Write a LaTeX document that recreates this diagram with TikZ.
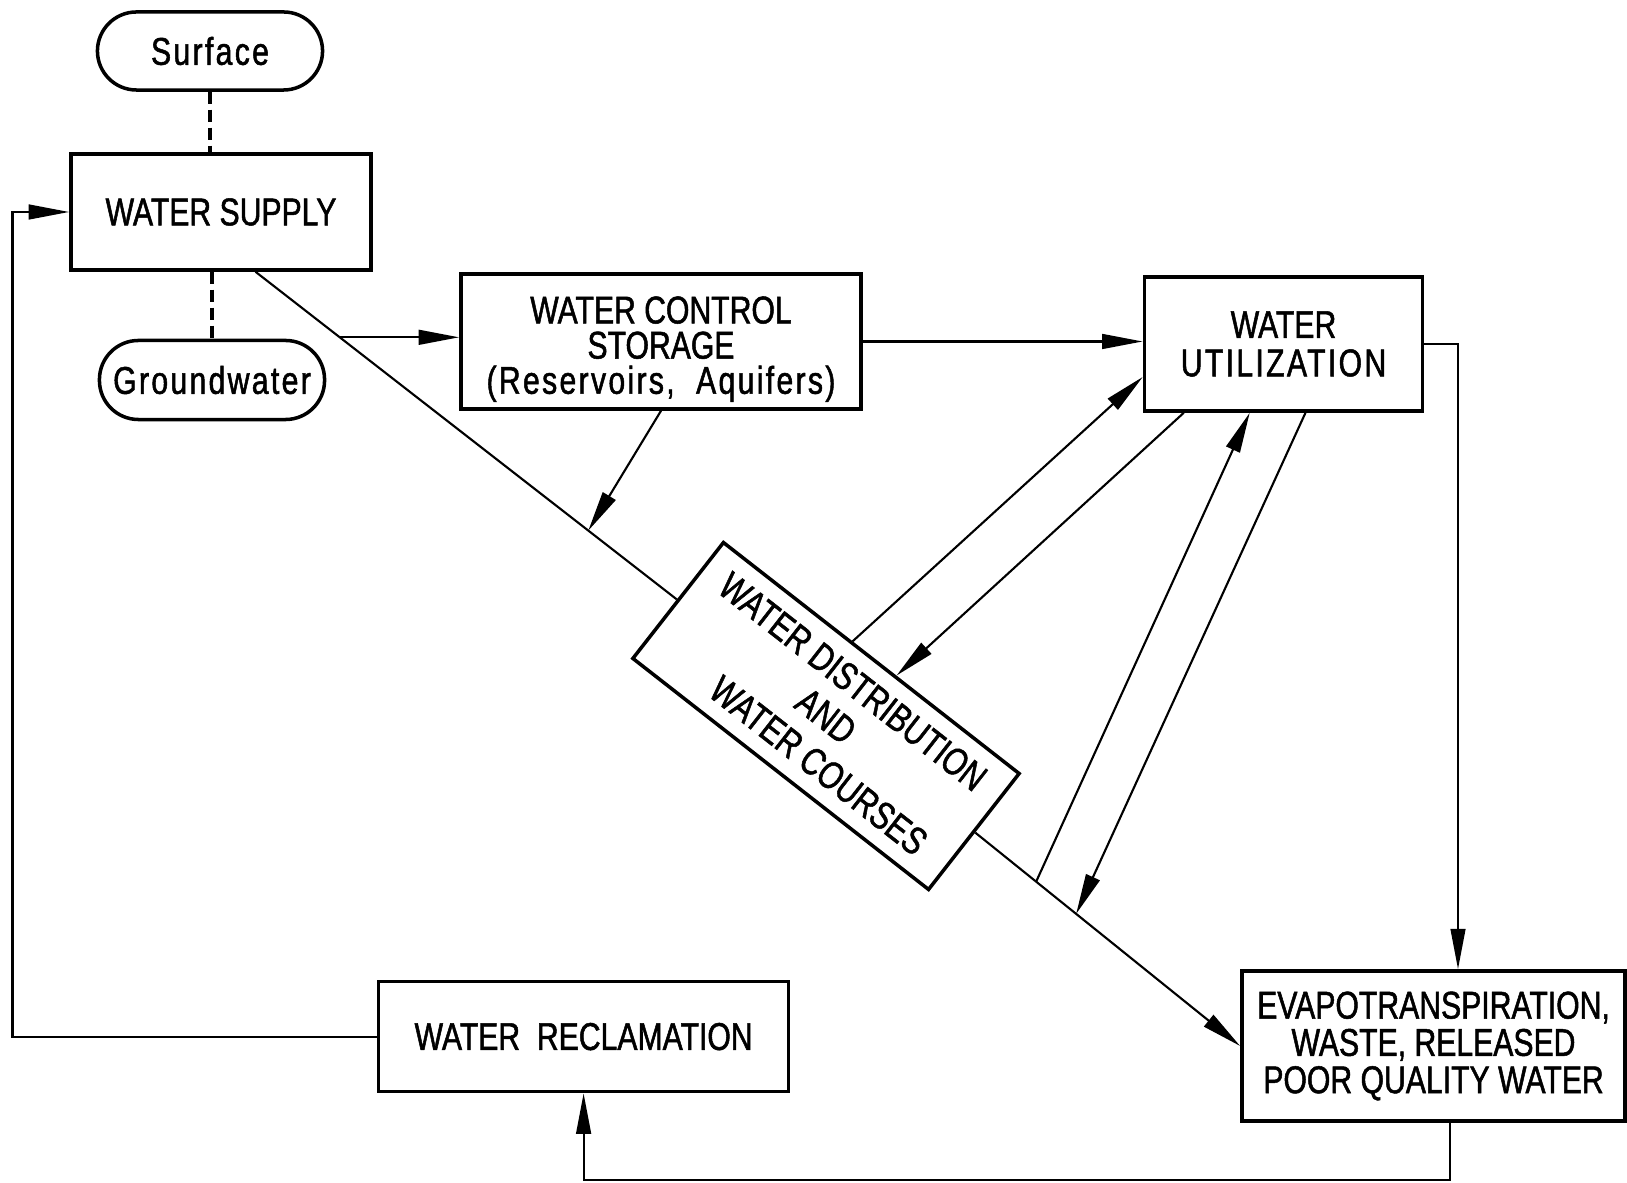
\documentclass[tikz,border=0pt]{standalone}
\usepackage{fontspec}
\setmainfont{Liberation Sans}[FakeStretch=0.78,FakeBold=1.3]
\newfontfamily\spacedfont{Liberation Sans}[FakeStretch=0.78,FakeBold=1.3,LetterSpace=6]
\usetikzlibrary{arrows.meta,calc}
% lettering size with a chosen line pitch
\newcommand\boxfont[1]{\fontsize{11pt}{#1}\selectfont\lineskiplimit=-20pt\relax}

\begin{document}
\begin{tikzpicture}[x=0.01cm,y=-0.01cm,
  every node/.style={inner sep=0pt},
  box/.style={draw, line width=1pt, align=center, font=\boxfont{12pt}},
  term/.style={draw, line width=1pt, rounded corners=0.39cm,
    minimum width=2.25cm, minimum height=0.78cm, font=\spacedfont\boxfont{12pt}},
  conn/.style={line width=0.6pt},
  arr/.style={conn, -{Triangle[length=11.5pt,width=4.2pt]}},
  dash line/.style={line width=0.9pt, dash pattern=on 3.6pt off 1.5pt},
]
\useasboundingbox (0,0) rectangle (1627,1183);

% sources and supply
\node[term] (surf) at (210,51) {Surface};
\node[box, minimum width=3cm, minimum height=1.16cm] (supply) at (221,212) {WATER SUPPLY};
\node[term, minimum height=0.79cm] (ground) at (212,380) {Groundwater};

% storage, use, distribution
\node[box, minimum width=4cm, minimum height=1.35cm, font=\boxfont{10pt}] (wcs) at (661,341.5)
  {\rule{0pt}{12pt}WATER CONTROL\\STORAGE\\{\spacedfont (Reservoirs,\ \ Aquifers)}};
\node[box, minimum width=2.78cm, minimum height=1.34cm, font=\boxfont{10.9pt}] (wu) at (1283.5,344)
  {WATER\\{\spacedfont UTILIZATION}};
\node[box, rotate=-38, minimum width=3.75cm, minimum height=1.47cm, font=\boxfont{12.4pt}] (wd) at (826,716)
  {WATER DISTRIBUTION\\AND\\\hspace*{14pt}WATER COURSES};

% losses and reclamation
\node[box, minimum width=3.83cm, minimum height=1.5cm, font=\boxfont{10.6pt}] (evap) at (1433.5,1046)
  {EVAPOTRANSPIRATION,\\WASTE, RELEASED\\POOR QUALITY WATER};
\node[box, minimum width=4.1cm, minimum height=1.1cm] (wr) at (583.6,1036.6) {WATER\ \ RECLAMATION};

% routing coordinates
\coordinate (lft) at (12.5,0);
\coordinate (rgt) at (1458,0);
\coordinate (bot) at (1450,1180);

% source links
\draw[dash line] (surf.south) -- (surf.south |- supply.north);
\draw[dash line] (ground.north |- supply.south) -- (ground.north);

% main course through distribution
\draw[conn] (supply.-60) -- (wd.west);
\draw[arr] (wd.east) -- (evap.west);
\coordinate (d1) at ($(supply.-60)!0.2!(wd.west)$);
\coordinate (d2) at ($(supply.-60)!0.79!(wd.west)$);
\draw[arr] (d1) -- (d1 -| wcs.west);
\draw[arr] (wcs.south) -- (d2);

% storage to use
\draw[arr] (wcs.east) -- (wcs.east -| wu.west);

% distribution and use
\draw[arr] ($(wd.north west)!0.434!(wd.north east)$) -- ($(wu.north west)!0.74!(wu.south west)$);
\draw[arr] ($(wu.south west)!0.146!(wu.south east)$) -- ($(wd.north west)!0.581!(wd.north east)$);
\coordinate (e1) at ($(wd.east)!0.23!(evap.west)$);
\coordinate (e2) at ($(wd.east)!0.381!(evap.west)$);
\draw[arr] (e1) -- ($(wu.south west)!0.38!(wu.south east)$);
\draw[arr] ($(wu.south west)!0.578!(wu.south east)$) -- (e2);

% use to losses
\draw[arr] (wu.east) -- (wu.east -| rgt) -- (rgt |- evap.north);

% return loop
\draw[arr] (evap.south -| bot) -- (bot) -| (wr.south);
\draw[arr] (wr.west) -- (wr.west -| lft) |- (supply.west);
\end{tikzpicture}
\end{document}
